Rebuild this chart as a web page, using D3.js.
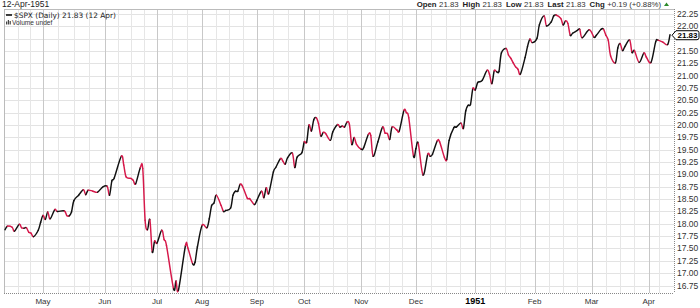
<!DOCTYPE html>
<html>
<head>
<meta charset="utf-8">
<script src="https://cdn.jsdelivr.net/npm/d3@7/dist/d3.min.js"></script>
<style>
  html, body { margin: 0; padding: 0; background: #fff; }
  svg { display: block; font-family: "Liberation Sans", Arial, sans-serif; }
</style>
</head>
<body>
<svg id="chart"></svg>
<script>
// session index (trading days from 12-Apr-1950) and closing values
var sessions = [0,1,3,4,6,7,8,9,10,11,12,14,15,16,17,18,19,21,22,25,26,27,28,29,31,33,34,35,37,39,41,43,44,45,46,49,50,51,53,54,55,57,58,59,60,61,62,63,64,66,67,68,71,72,73,76,77,79,80,81,83,85,86,87,88,89,91,92,93,95,96,97,98,99,100,102,103,105,106,108,109,110,111,113,114,116,117,118,119,121,122,123,125,126,127,128,129,130,131,132,133,134,135,137,138,140,141,142,143,144,145,146,147,148,150,151,153,154,155,157,159,160,161,162,163,165,166,168,169,170,172,173,174,176,178,179,180,182,183,185,186,187,189,190,192,193,194,195,196,197,198,199,200,201,203,204,205,206,207,208,209,211,212,213,214,215,216,217,219,220,221,222,224,225,227,228,230,231,232,234,235,236,237,238,239,241,242,243,246,248,249,251,252,253,254,255,257,258,259,260,261,263,264,265,267,269,270,272,274,275,277,279,280];
var closes = [17.88,17.95,17.93,17.85,17.99,17.92,17.91,17.92,17.83,17.81,17.74,17.87,18.03,18.17,18.09,18.24,18.10,18.29,18.25,18.26,18.17,18.16,18.24,18.47,18.58,18.69,18.59,18.68,18.66,18.64,18.74,18.76,18.58,18.87,18.93,19.37,19.19,18.95,18.92,18.88,18.81,19.14,19.12,18.07,17.88,18.08,17.43,17.65,17.61,17.87,17.68,17.56,16.68,16.84,16.65,17.56,17.51,17.19,17.22,17.53,17.97,17.92,18.10,18.37,18.42,18.58,18.37,18.25,18.27,18.32,18.58,18.66,18.66,18.80,18.76,18.52,18.51,18.39,18.47,18.66,18.53,18.73,18.61,19.05,19.14,19.32,19.27,19.21,19.34,19.43,19.14,19.35,19.44,19.66,19.65,20.00,19.88,20.11,20.15,20.03,19.78,19.85,19.83,19.69,19.86,20.01,19.96,19.98,19.96,20.06,20.02,19.61,19.75,19.61,19.51,19.54,19.81,19.79,19.37,19.66,19.96,19.84,19.83,19.71,19.96,19.90,19.88,20.30,20.25,20.15,19.37,19.52,19.63,18.99,19.41,19.37,19.41,19.68,19.66,19.35,19.30,19.69,19.95,19.96,20.04,19.93,20.29,20.40,20.42,20.74,20.71,20.86,20.88,20.91,21.11,21.03,20.84,21.10,21.08,21.09,21.46,21.55,21.42,21.35,21.26,21.18,21.13,21.03,21.37,21.59,21.74,21.67,21.76,22.03,22.21,22.01,22.09,22.21,22.23,22.16,22.03,22.11,22.06,21.82,21.86,21.92,21.94,21.77,21.93,21.78,21.82,21.94,21.94,21.82,21.72,21.40,21.26,21.56,21.65,21.51,21.59,21.72,21.47,21.51,21.27,21.46,21.38,21.27,21.69,21.72,21.68,21.63,21.83];

// month labels and the session where each month starts
var monthLabels = ["May","Jun","Jul","Aug","Sep","Oct","Nov","Dec","1951","Feb","Mar","Apr"];
var monthStarts = [16,42,64,83,106,126,150,173,198,223,247,271];

var headerItems = [["Open","21.83"],["High","21.83"],["Low","21.83"],["Last","21.83"],["Chg","+0.19 (+0.88%)"]];
var lastClose = 21.83;

var W = 700, H = 308;
var plot = { left: 4, right: 674, top: 9, bottom: 293 };

var svg = d3.select("#chart").attr("width", W).attr("height", H);

var x = d3.scaleLinear().domain([0, 280]).range([5, 670]);
var y = d3.scaleLinear().domain([16.75, 22.25]).range([285.5, 14]);

var data = sessions.map(function(s, i){ return { s: s, v: closes[i] }; });

// grid
var grid = svg.append("g");
var yTicks = d3.range(16.75, 22.26, 0.25);
grid.selectAll("line.h").data(yTicks).enter().append("line")
  .attr("x1", plot.left).attr("x2", plot.right)
  .attr("y1", function(d){ return Math.round(y(d)) + 0.5; })
  .attr("y2", function(d){ return Math.round(y(d)) + 0.5; })
  .attr("stroke", "#e3e3e3").attr("stroke-width", 1);

// minor vertical grid: month spans split into weeks
var minor = [];
var bounds = [0].concat(monthStarts).concat([280]);
for (var k = 0; k < bounds.length - 1; k++) {
  var a = bounds[k], b = bounds[k+1];
  var n = Math.max(1, Math.round((b - a) / 6));
  for (var j = 1; j < n; j++) minor.push(a + (b - a) * j / n);
}
grid.selectAll("line.vm").data(minor).enter().append("line")
  .attr("x1", function(d){ return Math.round(x(d)) + 0.5; })
  .attr("x2", function(d){ return Math.round(x(d)) + 0.5; })
  .attr("y1", plot.top).attr("y2", plot.bottom)
  .attr("stroke", "#e6e6e6");
grid.selectAll("line.vM").data(monthStarts).enter().append("line")
  .attr("x1", function(d){ return Math.round(x(d)) + 0.5; })
  .attr("x2", function(d){ return Math.round(x(d)) + 0.5; })
  .attr("y1", plot.top).attr("y2", plot.bottom)
  .attr("stroke", "#c8c8c8");

// frame
svg.append("line").attr("x1", plot.left + 0.5).attr("x2", plot.left + 0.5)
  .attr("y1", plot.top).attr("y2", plot.bottom).attr("stroke", "#bbb");
svg.append("line").attr("x1", plot.left).attr("x2", plot.right)
  .attr("y1", plot.top + 0.5).attr("y2", plot.top + 0.5).attr("stroke", "#bbb");
svg.append("line").attr("x1", plot.left).attr("x2", plot.right)
  .attr("y1", plot.bottom + 0.5).attr("y2", plot.bottom + 0.5)
  .attr("stroke", "#888").attr("stroke-dasharray", "1,1");
svg.append("line").attr("x1", plot.right + 0.5).attr("x2", plot.right + 0.5)
  .attr("y1", plot.top).attr("y2", plot.bottom)
  .attr("stroke", "#888").attr("stroke-dasharray", "1,1");

// price line, smoothed (catmull-rom) and coloured by direction
var pts = data.map(function(d){ return [x(d.s), y(d.v)]; });
function segPath(i) {
  var p0 = pts[Math.max(0, i - 1)], p1 = pts[i], p2 = pts[i + 1], p3 = pts[Math.min(pts.length - 1, i + 2)];
  var c1 = [p1[0] + (p2[0] - p0[0]) / 6, p1[1] + (p2[1] - p0[1]) / 6];
  var c2 = [p2[0] - (p3[0] - p1[0]) / 6, p2[1] - (p3[1] - p1[1]) / 6];
  return "M" + p1 + "C" + c1 + " " + c2 + " " + p2;
}
svg.append("g").selectAll("path").data(d3.range(pts.length - 1)).enter().append("path")
  .attr("d", segPath)
  .attr("fill", "none")
  .attr("stroke", function(i){ return data[i + 1].v < data[i].v ? "#d6184a" : "#111"; })
  .attr("stroke-width", 1.45)
  .attr("stroke-linecap", "round");

// right axis labels
svg.append("g").selectAll("text").data(yTicks.filter(function(d){ return Math.abs(d - 21.75) > 0.01; }))
  .enter().append("text")
  .attr("x", 677).attr("y", function(d){ return y(d) + 3; })
  .attr("font-size", 8.5).attr("fill", "#333")
  .text(function(d){ return d.toFixed(2); });

// last value marker
var ly = y(lastClose) + 0.5;
svg.append("path")
  .attr("d", "M672," + ly + " L676," + (ly - 4.5) + " L697," + (ly - 4.5) +
             " Q699," + (ly - 4.5) + " 699," + (ly - 2.5) + " L699," + (ly + 2.5) +
             " Q699," + (ly + 4.5) + " 697," + (ly + 4.5) + " L676," + (ly + 4.5) + " Z")
  .attr("fill", "#fff").attr("stroke", "#000").attr("stroke-width", 1);
svg.append("text").attr("x", 687.5).attr("y", ly + 3).attr("text-anchor", "middle")
  .attr("font-size", 8).attr("font-weight", "bold").attr("fill", "#000")
  .text(lastClose.toFixed(2));

// month labels
svg.append("g").selectAll("text").data(monthStarts).enter().append("text")
  .attr("x", function(d){ return x(d); })
  .attr("y", 304)
  .attr("text-anchor", "middle")
  .attr("font-size", function(d, i){ return monthLabels[i] === "1951" ? 9 : 8; })
  .attr("font-weight", function(d, i){ return monthLabels[i] === "1951" ? "bold" : "normal"; })
  .attr("fill", function(d, i){ return monthLabels[i] === "1951" ? "#000" : "#333"; })
  .text(function(d, i){ return monthLabels[i]; });

// header
svg.append("text").attr("x", 2).attr("y", 7).attr("font-size", 8.5).attr("fill", "#222")
  .text("12-Apr-1951");

var hdr = svg.append("text").attr("x", 661).attr("y", 7).attr("text-anchor", "end")
  .attr("font-size", 7.8).attr("fill", "#222");
headerItems.forEach(function(h, i){
  hdr.append("tspan").attr("font-weight", "bold").attr("dx", i ? 4 : 0).text(h[0]);
  hdr.append("tspan").attr("dx", 2.5).attr("fill", "#333").text(h[1]);
});
svg.append("path").attr("d", "M664,6 L666.5,2.5 L669,6 Z").attr("fill", "#2a8a2a");

// legend
svg.append("line").attr("x1", 6).attr("x2", 12).attr("y1", 15).attr("y2", 15)
  .attr("stroke", "#000").attr("stroke-width", 1.5);
svg.append("text").attr("x", 14).attr("y", 17.5).attr("font-size", 7.4)
  .attr("font-family", "DejaVu Sans, sans-serif").attr("fill", "#222")
  .text("$SPX (Daily) 21.83 (12 Apr)");
var icon = svg.append("g").attr("fill", "#444");
icon.append("rect").attr("x", 6).attr("y", 21.5).attr("width", 1.2).attr("height", 3);
icon.append("rect").attr("x", 7.8).attr("y", 20).attr("width", 1.2).attr("height", 4.5);
icon.append("rect").attr("x", 9.6).attr("y", 21).attr("width", 1.2).attr("height", 3.5);
svg.append("text").attr("x", 12).attr("y", 25).attr("font-size", 6.6)
  .attr("fill", "#333").text("Volume undef");
</script>
</body>
</html>
